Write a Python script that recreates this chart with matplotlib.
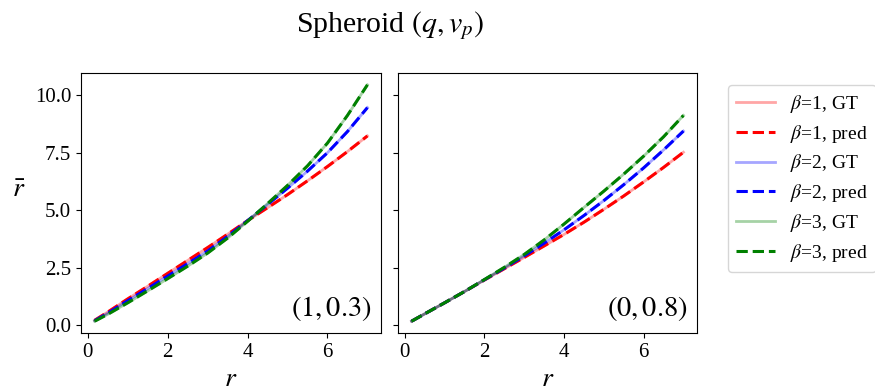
import matplotlib
matplotlib.use("Agg")
import matplotlib.pyplot as plt

plt.rcParams['font.family'] = ['Liberation Serif', 'DejaVu Serif']
plt.rcParams['mathtext.fontset'] = 'stix'

r = [0.17, 0.5, 1, 1.5, 2, 2.5, 3, 3.5, 4, 4.5, 5, 5.5, 6, 6.5, 7]

# panel (1, 0.3)
left_b1 = [0.22, 0.58, 1.15, 1.70, 2.26, 2.82, 3.38, 3.96, 4.55, 5.11, 5.68, 6.28, 6.90, 7.55, 8.23]
left_b2 = [0.20, 0.53, 1.07, 1.60, 2.14, 2.68, 3.23, 3.86, 4.55, 5.25, 5.96, 6.70, 7.50, 8.42, 9.46]
left_b3 = [0.18, 0.48, 0.98, 1.50, 2.03, 2.57, 3.14, 3.79, 4.52, 5.29, 6.08, 6.93, 7.92, 9.12, 10.45]

# panel (0, 0.8)
right_b1 = [0.18, 0.50, 0.98, 1.47, 1.97, 2.46, 2.95, 3.45, 3.95, 4.48, 5.04, 5.62, 6.23, 6.86, 7.52]
right_b2 = [0.18, 0.50, 0.98, 1.47, 1.98, 2.49, 3.02, 3.57, 4.15, 4.77, 5.42, 6.11, 6.84, 7.62, 8.44]
right_b3 = [0.18, 0.50, 0.98, 1.47, 1.99, 2.52, 3.08, 3.71, 4.40, 5.12, 5.83, 6.57, 7.35, 8.19, 9.12]

betas = [1, 2, 3]
colors = ['red', 'blue', 'green']
panel_labels = ['$(1, 0.3)$', '$(0, 0.8)$']
title = 'Spheroid $(q, v_p)$'

panels = [[left_b1, left_b2, left_b3], [right_b1, right_b2, right_b3]]

fig = plt.figure(figsize=(8.75, 3.92), dpi=100)
ax1 = fig.add_axes([0.0926, 0.1505, 0.3429, 0.6633])
ax2 = fig.add_axes([0.4549, 0.1505, 0.3417, 0.6633], sharey=ax1)
axes = [ax1, ax2]

for ax, series, lab in zip(axes, panels, panel_labels):
    for b, c, y in zip(betas, colors, series):
        ax.plot(r, y, color=c, alpha=0.35, lw=2, label=f'$\\beta$={b}, GT')
        ax.plot(r, y, color=c, ls='--', lw=2.2, label=f'$\\beta$={b}, pred')
    ax.text(0.97, 0.04, lab, transform=ax.transAxes, ha='right', va='bottom', fontsize=20.5)
    ax.set_xlabel('$r$', fontsize=20, labelpad=4)
    ax.tick_params(labelsize=15)
    ax.set_xticks([0, 2, 4, 6])

ax1.set_yticks([0, 2.5, 5, 7.5, 10])
ax1.set_ylabel(r'$\bar{r}$', fontsize=20, rotation=0, labelpad=12)
plt.setp(ax2.get_yticklabels(), visible=False)

fig.text(0.446, 1 - 32 / 392, title, fontsize=21.5, ha='center', va='baseline')

handles, labels = ax1.get_legend_handles_labels()
fig.legend(handles, labels, loc='upper left', bbox_to_anchor=(0.832, 0.783),
           borderaxespad=0, fontsize=14, labelspacing=0.4, handletextpad=0.8)

fig.savefig('out.png', dpi=100)
